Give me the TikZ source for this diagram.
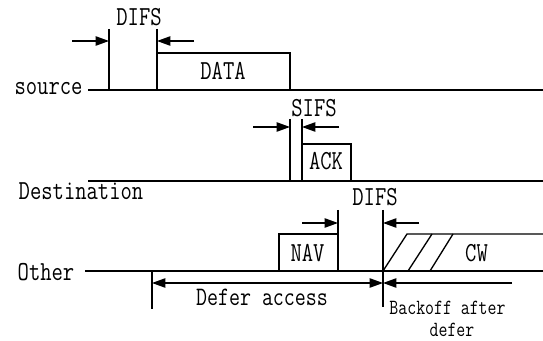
\documentclass[tikz,border=0pt]{standalone}
\usetikzlibrary{arrows.meta}
\newcommand\vtxt[1]{\scalebox{1}[1.25]{#1}}
\begin{document}
\begin{tikzpicture}[x=0.75pt,y=-0.75pt,
  ln/.style={line width=1pt},
  arr/.style={line width=1pt,-{Triangle[length=10pt,width=7pt]}},
  darr/.style={line width=1pt,{Triangle[length=10pt,width=7pt]}-{Triangle[length=10pt,width=7pt]}},
  lbl/.style={inner sep=0pt,font=\ttfamily\fontsize{16.5}{18}\selectfont},
  small/.style={inner sep=0pt,font=\ttfamily\fontsize{13}{14}\selectfont}]
\useasboundingbox (0,0) rectangle (543,341);
% ---------- source ----------
\node[lbl] (src) at (48.5,89) {\vtxt{source}};
\draw[ln] (88,90) -- (543,90);
\draw[ln] (109,29) -- (109,90);
\draw[ln] (157,29) -- (157,90);
\draw[ln] (157,90) -- (157,53) -- (290,53) -- (290,90);
\node[lbl] (data) at (223,71) {\vtxt{DATA}};
\node[lbl] (difs1) at (139,17) {\vtxt{DIFS}};
\coordinate (d1a) at (72,41);  \coordinate (d1b) at (109,41);
\coordinate (d1c) at (194,41); \coordinate (d1d) at (157,41);
\draw[arr] (d1a) -- (d1b);
\draw[arr] (d1c) -- (d1d);
% ---------- destination ----------
\node[lbl] (dst) at (81,191.5) {\vtxt{Destination}};
\draw[ln] (88,181) -- (543,181);
\draw[ln] (290,119) -- (290,181);
\draw[ln] (302,119) -- (302,181);
\draw[ln] (302,181) -- (302,144) -- (351,144) -- (351,181);
\node[lbl] (ack) at (326,161.5) {\vtxt{ACK}};
\node[lbl] (sifs) at (314,108.5) {\vtxt{SIFS}};
\coordinate (s1a) at (253,127); \coordinate (s1b) at (290,127);
\coordinate (s1c) at (339,127); \coordinate (s1d) at (302,127);
\draw[arr] (s1a) -- (s1b);
\draw[arr] (s1c) -- (s1d);
% ---------- other ----------
\node[lbl] (oth) at (46,272) {\vtxt{Other}};
\draw[ln] (85,271) -- (543,271);
\draw[ln] (279,271) -- (279,234) -- (338,234) -- (338,271);
\draw[ln] (338,210) -- (338,234);
\draw[ln] (383,210) -- (383,307);
\node[lbl] (nav) at (307.5,253) {\vtxt{NAV}};
\node[lbl] (difs2) at (375,197.5) {\vtxt{DIFS}};
\coordinate (o1a) at (302,223); \coordinate (o1b) at (338,223);
\coordinate (o1c) at (419,223); \coordinate (o1d) at (383,223);
\draw[arr] (o1a) -- (o1b);
\draw[arr] (o1c) -- (o1d);
% contention window
\draw[ln] (383,271) -- (407,234) -- (543,234);
\draw[ln] (408,271) -- (432,234);
\draw[ln] (430,271) -- (453,234);
\node[lbl] (cw) at (476.5,253) {\vtxt{CW}};
% defer access
\draw[ln] (152,271) -- (152,309);
\coordinate (da) at (152,283); \coordinate (db) at (383,283);
\coordinate (bo) at (512,283);
\draw[darr] (da) -- (db);
\draw[arr] (bo) -- (db);
\node[lbl,font=\ttfamily\fontsize{16}{18}\selectfont] (defer) at (262,297.5) {\vtxt{Defer access}};
\node[small] (back1) at (447.5,308) {\vtxt{Backoff after}};
\node[small] (back2) at (452,330) {\vtxt{defer}};
\end{tikzpicture}
\end{document}
